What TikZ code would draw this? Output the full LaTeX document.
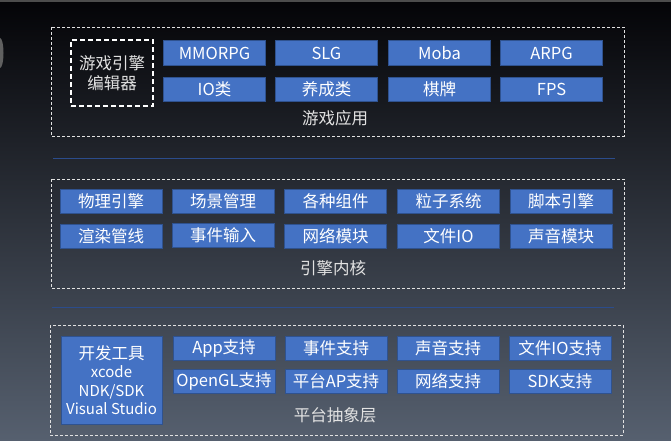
\documentclass[tikz,border=0pt]{standalone}
\usepackage{fontspec}
\setmainfont{Noto Sans CJK SC}
\usepackage{tikz}
\usetikzlibrary{positioning}

\definecolor{modblue}{HTML}{4472C4}
\definecolor{modedge}{HTML}{2F528F}
\definecolor{framegray}{HTML}{E2E2E2}
\definecolor{sepblue}{HTML}{2B4C8C}
\definecolor{bgtop}{HTML}{040407}
\definecolor{bgmid}{HTML}{1E1E2C}
\definecolor{bgbot}{HTML}{56606F}

\begin{document}
\begin{tikzpicture}[
  x=1pt, y=-1pt,
  font=\fontsize{16.5pt}{19pt}\selectfont,
  modbox/.style={draw=modedge, fill=modblue, text=white, minimum width=102pt, minimum height=24.5pt, inner sep=0pt, line width=0.8pt},
  layerframe/.style={draw=framegray, dash pattern=on 3pt off 2pt, line width=0.8pt},
  layertitle/.style={text=framegray, inner sep=0pt},
  sepline/.style={draw=sepblue, line width=1pt}
]
\useasboundingbox (0,0) rectangle (671,441);
\shade[top color=bgtop, middle color=bgmid, bottom color=bgbot] (0,0) rectangle (671,441);
\fill[gray!60!black] (0,0) rectangle (671,2);
\fill[gray!75!black] (0,53) ellipse (3.5 and 15);

% game applications
\draw[layerframe] (51,27) rectangle (624,136);
\node[draw=white, dash pattern=on 5pt off 3pt, line width=1.8pt, text=framegray, align=center,
      minimum width=82pt, minimum height=66pt, inner sep=0pt, font=\fontsize{16.5pt}{20pt}\selectfont] (editor) at (112,73) {游戏引擎\\编辑器};
\node[modbox] (mmorpg) at (214.5,53) {MMORPG};
\node[modbox] (slg) at (326.5,53) {SLG};
\node[modbox] (moba) at (439.5,53) {Moba};
\node[modbox] (arpg) at (551.5,53) {ARPG};
\node[modbox] (io) at (214.5,89.5) {IO类};
\node[modbox] (yangcheng) at (326.5,89.5) {养成类};
\node[modbox] (qipai) at (439.5,89.5) {棋牌};
\node[modbox] (fps) at (551.5,89.5) {FPS};
\node[layertitle] (apptitle) at (335,118) {游戏应用};

\draw[sepline] (53,158) -- (615,158);

% engine core
\draw[layerframe] (51,179) rectangle (624,288);
\node[modbox] (phys) at (111,201.5) {物理引擎};
\node[modbox] (scene) at (223,201.5) {场景管理};
\node[modbox] (comp) at (335.5,201.5) {各种组件};
\node[modbox] (particle) at (448.5,201.5) {粒子系统};
\node[modbox] (script) at (561,201.5) {脚本引擎};
\node[modbox] (render) at (111,236.5) {渲染管线};
\node[modbox] (input) at (223,235.5) {事件输入};
\node[modbox] (net) at (335.5,236.5) {网络模块};
\node[modbox] (fileio) at (448.5,236.5) {文件IO};
\node[modbox] (sound) at (561,236.5) {声音模块};
\node[layertitle] (coretitle) at (333,268) {引擎内核};

\draw[sepline] (52,307) -- (614,307);

% platform abstraction
\draw[layerframe] (50,325) rectangle (623,435);
\node[modbox, minimum width=101pt, minimum height=88pt, align=center,
      font=\fontsize{15pt}{18.5pt}\selectfont] (tools) at (111.5,380) {{\fontsize{16.5pt}{18.5pt}\selectfont 开发工具}\\xcode\\NDK/SDK\\Visual Studio};
\node[modbox] (app) at (224,348.5) {App支持};
\node[modbox] (evt) at (336,348.5) {事件支持};
\node[modbox] (audio) at (448,348.5) {声音支持};
\node[modbox] (filesup) at (560,348.5) {文件IO支持};
\node[modbox] (opengl) at (224,381.5) {OpenGL支持};
\node[modbox] (platap) at (336,381.5) {平台AP支持};
\node[modbox] (netsup) at (448,381.5) {网络支持};
\node[modbox] (sdk) at (560,381.5) {SDK支持};
\node[layertitle] (plattitle) at (335,415) {平台抽象层};
\end{tikzpicture}
\end{document}
